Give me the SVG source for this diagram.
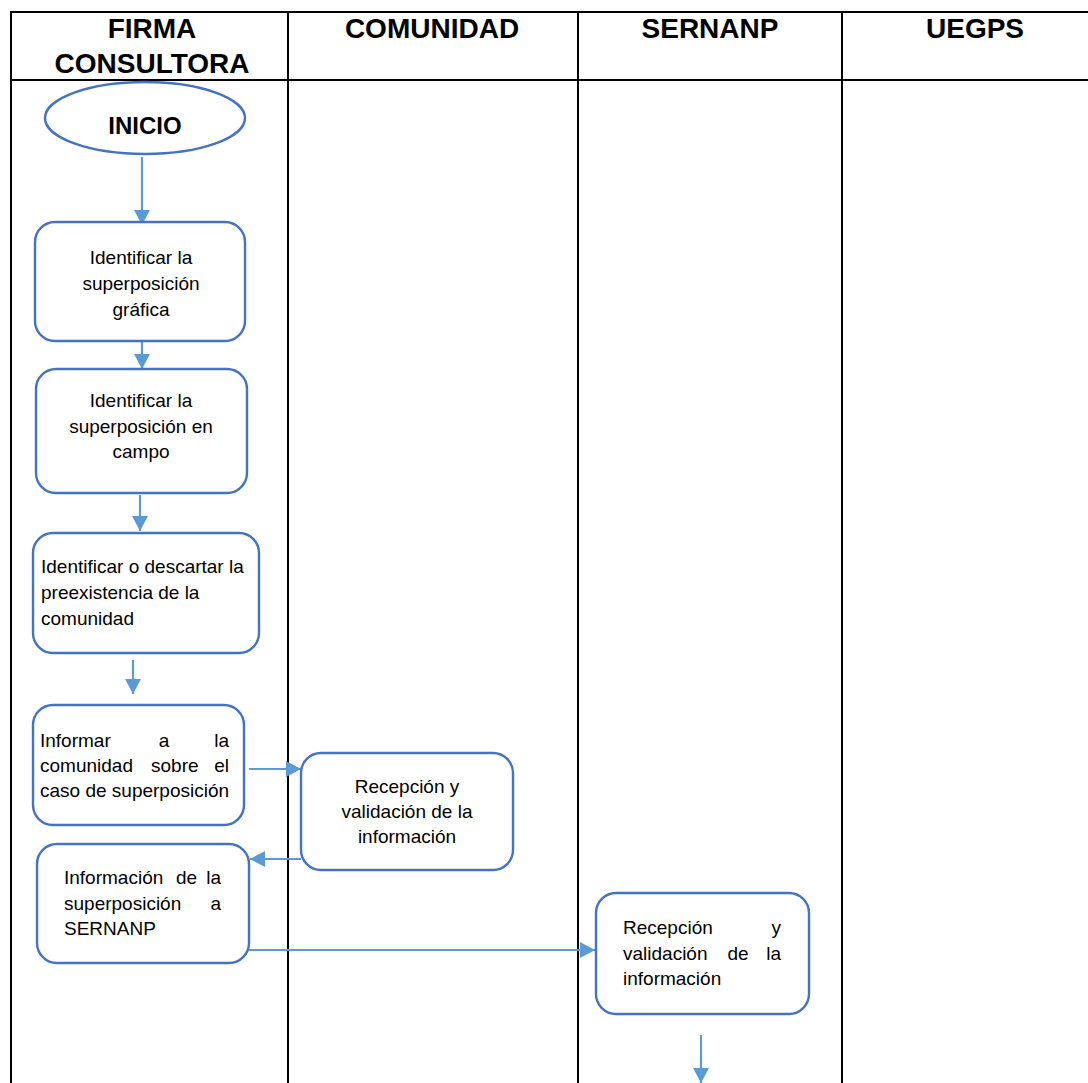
<svg xmlns="http://www.w3.org/2000/svg" width="1088" height="1083" viewBox="0 0 1088 1083">
<style>
.grid{stroke:#000;stroke-width:2;fill:none}
.hdr{font-family:"Liberation Sans",Arial,sans-serif;font-weight:bold;font-size:28px;fill:#000;text-anchor:middle}
.box{fill:#fff;stroke:#4472C4;stroke-width:2.4}
.t{font-family:"Liberation Sans",Arial,sans-serif;font-size:19px;fill:#000}
.c{text-anchor:middle}
.e{text-anchor:end}
.con{stroke:#5B9BD5;stroke-width:2.2;fill:none;marker-end:url(#ah)}
</style>
<defs>
<marker id="ah" viewBox="0 0 10 10" refX="10" refY="5" markerWidth="15" markerHeight="16" markerUnits="userSpaceOnUse" orient="auto" preserveAspectRatio="none">
<path d="M0,0 L10,5 L0,10 Z" fill="#5B9BD5"/>
</marker>
</defs>
<rect width="1088" height="1083" fill="#fff"/>
<g id="table">
<path class="grid" d="M11,1083 V12 H1088 M11,80 H1088 M288,12 V1083 M578,12 V1083 M842,12 V1083"/>
<text class="hdr" x="152" y="38">FIRMA</text>
<text class="hdr" x="152" y="73">CONSULTORA</text>
<text class="hdr" x="432" y="38">COMUNIDAD</text>
<text class="hdr" x="710" y="38">SERNANP</text>
<text class="hdr" x="975" y="38">UEGPS</text>
</g>
<g id="connectors">
<line class="con" x1="142" y1="157" x2="142" y2="225"/>
<line class="con" x1="142" y1="341" x2="142" y2="369"/>
<line class="con" x1="140" y1="495" x2="140" y2="531"/>
<line class="con" x1="133" y1="660" x2="133" y2="694"/>
<line class="con" x1="249" y1="769" x2="301" y2="769"/>
<line class="con" x1="301" y1="859" x2="250" y2="859"/>
<line class="con" x1="249" y1="950" x2="595" y2="950"/>
<line class="con" x1="701" y1="1035" x2="701" y2="1083"/>
</g>
<g id="inicio">
<ellipse class="box" cx="145" cy="118" rx="100" ry="36"/>
<text x="145" y="134" style="font-family:'Liberation Sans',Arial,sans-serif;font-weight:bold;font-size:24px;text-anchor:middle">INICIO</text>
</g>
<g id="n1">
<rect class="box" x="35" y="222" width="210" height="119" rx="20"/>
<text class="t c" x="141" y="264">Identificar la</text>
<text class="t c" x="141" y="290">superposición</text>
<text class="t c" x="141" y="316">gráfica</text>
</g>
<g id="n2">
<rect class="box" x="36" y="369" width="211" height="124" rx="20"/>
<text class="t c" x="141" y="407">Identificar la</text>
<text class="t c" x="141" y="433">superposición en</text>
<text class="t c" x="141" y="458">campo</text>
</g>
<g id="n3">
<rect class="box" x="33" y="533" width="226" height="120" rx="20"/>
<text class="t" x="41" y="573">Identificar o descartar la</text>
<text class="t" x="41" y="599">preexistencia de la</text>
<text class="t" x="41" y="625">comunidad</text>
</g>
<g id="n4">
<rect class="box" x="33" y="705" width="211" height="120" rx="20"/>
<text class="t" x="40" y="747">Informar</text>
<text class="t c" x="164" y="747">a</text>
<text class="t e" x="229" y="747">la</text>
<text class="t" x="40" y="772">comunidad</text>
<text class="t" x="151" y="772">sobre</text>
<text class="t e" x="229" y="772">el</text>
<text class="t" x="40" y="797">caso de superposición</text>
</g>
<g id="n5">
<rect class="box" x="301" y="753" width="212" height="117" rx="20"/>
<text class="t c" x="407" y="793">Recepción y</text>
<text class="t c" x="407" y="818">validación de la</text>
<text class="t c" x="407" y="843">información</text>
</g>
<g id="n6">
<rect class="box" x="37" y="844" width="212" height="119" rx="20"/>
<text class="t" x="64" y="884">Información</text>
<text class="t" x="176" y="884">de</text>
<text class="t e" x="221" y="884">la</text>
<text class="t" x="64" y="910">superposición</text>
<text class="t e" x="221" y="910">a</text>
<text class="t" x="64" y="935">SERNANP</text>
</g>
<g id="n7">
<rect class="box" x="596" y="893" width="213" height="121" rx="20"/>
<text class="t" x="623" y="934">Recepción</text>
<text class="t e" x="781" y="934">y</text>
<text class="t" x="623" y="960">validación</text>
<text class="t c" x="738" y="960">de</text>
<text class="t e" x="781" y="960">la</text>
<text class="t" x="623" y="985">información</text>
</g>
</svg>
